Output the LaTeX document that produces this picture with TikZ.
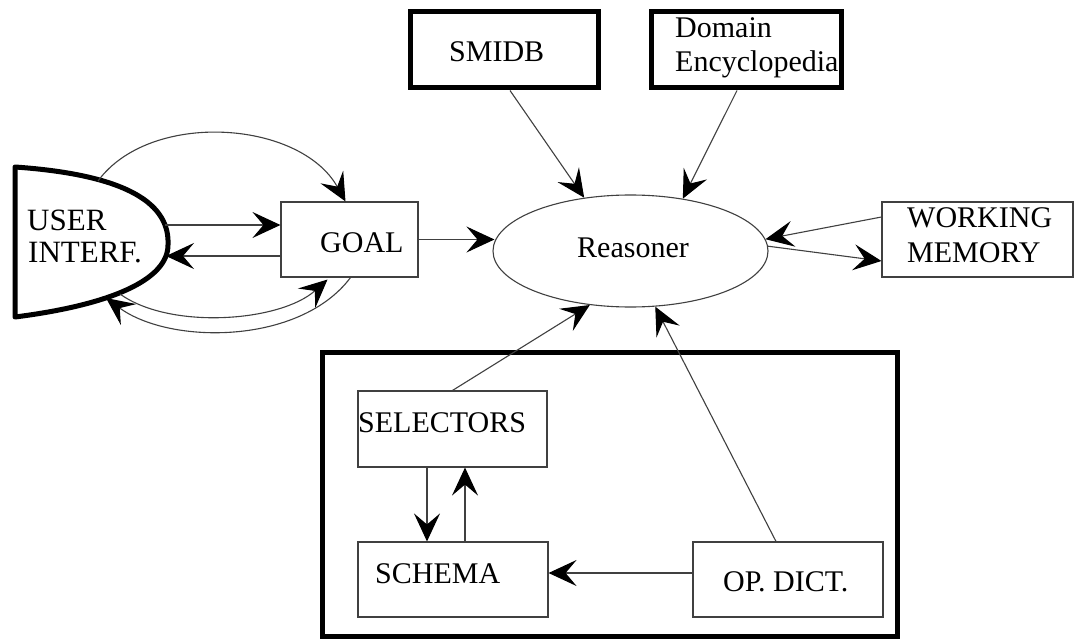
\documentclass[tikz,border=0pt]{standalone}
\usepackage{fontspec}
\setmainfont{Liberation Serif}
\usetikzlibrary{arrows.meta,calc,shapes.geometric}
\begin{document}
\begin{tikzpicture}[x=1pt,y=-1pt,
  thinline/.style={draw=black!75, line width=1.1pt},
  arr/.style={thinline, -{Stealth[length=28pt,width=26pt,inset=11pt,color=black]}},
  box/.style={draw=black!75, line width=1.1pt, rectangle, inner sep=0pt},
  thickbox/.style={draw=black, line width=5pt, rectangle, inner sep=0pt},
  lbl/.style={anchor=base west, inner sep=0pt, font=\fontsize{30}{34}\selectfont},
]
\useasboundingbox[fill=white] (0,0) rectangle (1076,639);

% boxes
\node[thickbox, minimum width=188pt, minimum height=76pt] (smidb) at (504,50) {};
\node[thickbox, minimum width=190pt, minimum height=76pt] (domain) at (746.5,50) {};
\node[box, minimum width=137pt, minimum height=75pt] (goal) at (349.5,239.5) {};
\node[box, minimum width=191pt, minimum height=75pt] (wm) at (977.5,239.5) {};
\node[thickbox, minimum width=574.5pt, minimum height=283.5pt] (big) at (609.75,494.25) {};
\node[box, minimum width=189pt, minimum height=76pt] (selectors) at (452.5,429) {};
\node[box, minimum width=190pt, minimum height=75pt] (schema) at (453,579.5) {};
\node[box, minimum width=190pt, minimum height=75pt] (opdict) at (788,579.5) {};
\node[ellipse, draw=black!75, line width=1.1pt, minimum width=275pt, minimum height=112pt, inner sep=0pt] (reasoner) at (630.5,251) {};

% user interface shape
\draw[line width=5pt, line join=round] (15,167) .. controls (130,175) and (170,205) .. (168,245)
  .. controls (168,280) and (110,305) .. (15,317) -- cycle;
\coordinate (uiA) at (165,225);
\coordinate (uiB) at (166,256);
\coordinate (uiT) at (98,181);
\coordinate (uiC) at (106,298);
\coordinate (uiD) at (120,294);

% labels
\node[lbl, font=\fontsize{31}{34}\selectfont] (tuser) at (27,230) {USER};
\node[lbl, font=\fontsize{31}{34}\selectfont] (tinterf) at (28,262) {INTERF.};
\node[lbl] (tgoal) at (320,252) {GOAL};
\node[lbl] (treasoner) at (577,258) {Reasoner};
\node[lbl] (tsmidb) at (449,62) {SMIDB};
\node[lbl] (tdomain) at (675,38) {Domain};
\node[lbl] (tency) at (675,72) {Encyclopedia};
\node[lbl] (twork) at (907,227) {WORKING};
\node[lbl] (tmem) at (907,262) {MEMORY};
\node[lbl] (tsel) at (358,432) {SELECTORS};
\node[lbl] (tschema) at (375,583) {SCHEMA};
\node[lbl] (topdict) at (723,591) {OP. DICT.};

% connectors: user interface <-> goal
\draw[arr] (uiA) -- (goal.west |- uiA);
\draw[arr] (goal.west |- uiB) -- (uiB);
\draw[arr] (uiT) .. controls (150,110) and (300,120) .. ($(goal.north)+(-4,0)$);
\draw[arr] ($(goal.south)+(1,0)$) .. controls (300,345) and (170,345) .. (uiC);
\draw[arr] (uiD) .. controls (170,330) and (280,322) .. ($(goal.south)+(-22,2)$);

% to reasoner
\draw[arr] (goal.east) -- ($(goal.east -| reasoner.west)+(2,0)$);
\draw[arr] ($(smidb.south)+(6,0)$) -- (reasoner.131);
\draw[arr] ($(domain.south)+(-9.5,0)$) -- (reasoner.45);
\draw[arr] ($(wm.west)+(0,-22.5)$) -- (reasoner.5);
\draw[arr] (reasoner.2) -- ($(wm.west)+(0,21.5)$);
\draw[arr] (selectors.north) -- (reasoner.233);
\draw[arr] ($(opdict.north)+(-12,0)$) -- (reasoner.294);

% inside big box
\draw[arr] ($(selectors.south)+(-25.5,0)$) -- ($(schema.north)+(-26,0)$);
\draw[arr] ($(schema.north)+(12,0)$) -- ($(selectors.south)+(12.5,0)$);
\draw[arr] ($(opdict.west)+(0,-6.5)$) -- (schema.east |- {$(opdict.west)+(0,-6.5)$});
\end{tikzpicture}
\end{document}
